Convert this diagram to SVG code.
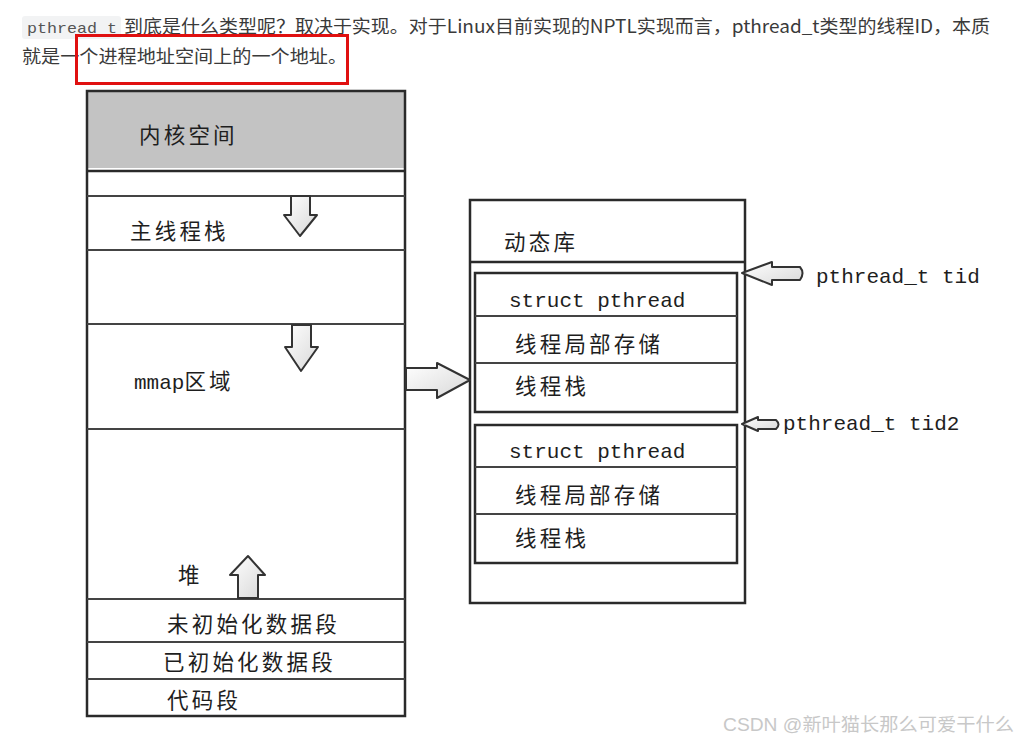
<svg xmlns="http://www.w3.org/2000/svg" width="1019" height="743" viewBox="0 0 1019 743">
<defs>
<style>
.para{font-family:"Noto Sans CJK SC","Noto Sans",sans-serif;font-size:18px;fill:#3a3a3a}
.code{font-family:"Liberation Mono","DejaVu Sans Mono",monospace;font-size:15px;fill:#555}
.cjk{font-family:"Noto Sans CJK SC",sans-serif;font-size:21.5px;fill:#1e1e1e;letter-spacing:3.2px}
.mono{font-family:"Liberation Mono","Noto Sans CJK SC",monospace;font-size:21px;fill:#1e1e1e}
.ln{stroke:#2a2a2a;stroke-width:2.5;fill:none}
.ln2{stroke:#444;stroke-width:2.2;fill:none}
.arr{fill:url(#ag);stroke:#333;stroke-width:2;stroke-linejoin:round}
.wm{font-family:"Liberation Sans","Noto Sans CJK SC",sans-serif;font-size:18px;fill:#c8c8c8}
</style>
<linearGradient id="ag" x1="0" y1="0" x2="1" y2="1">
<stop offset="0" stop-color="#ffffff"/>
<stop offset="1" stop-color="#d8d8d8"/>
</linearGradient>
</defs>
<rect width="1019" height="743" fill="#ffffff"/>

<g id="paragraph">
<rect x="22" y="16" width="99" height="23" rx="3" fill="#f2f3f4"/>
<text class="code" x="27" y="33" textLength="90" lengthAdjust="spacingAndGlyphs">pthread_t</text>
<text class="para" x="124" y="33" textLength="866" lengthAdjust="spacingAndGlyphs">到底是什么类型呢？取决于实现。对于Linux目前实现的NPTL实现而言，pthread_t类型的线程ID，本质</text>
<text class="para" x="22" y="63" textLength="325" lengthAdjust="spacingAndGlyphs">就是一个进程地址空间上的一个地址。</text>
<rect x="76.5" y="35.5" width="271" height="48" fill="none" stroke="#e01010" stroke-width="3"/>
</g>

<g id="process-space">
<rect x="87" y="91" width="318" height="77" fill="#c3c3c3"/>
<rect x="87" y="91" width="318" height="625" class="ln"/>
<line x1="87" y1="171" x2="405" y2="171" class="ln"/>
<line x1="87" y1="196" x2="405" y2="196" class="ln2"/>
<line x1="87" y1="250" x2="405" y2="250" class="ln2"/>
<line x1="87" y1="324" x2="405" y2="324" class="ln2"/>
<line x1="87" y1="429" x2="405" y2="429" class="ln2"/>
<line x1="87" y1="599" x2="405" y2="599" class="ln2"/>
<line x1="87" y1="642" x2="405" y2="642" class="ln2"/>
<line x1="87" y1="679" x2="405" y2="679" class="ln2"/>
</g>
<g id="kernel"><text class="cjk" x="139" y="143">内核空间</text></g>
<g id="main-stack"><text class="cjk" x="130" y="239">主线程栈</text></g>
<g id="mmap"><text class="mono" x="134" y="389">mmap<tspan class="cjk">区域</tspan></text></g>
<g id="heap"><text class="cjk" x="178" y="583">堆</text></g>
<g id="bss"><text class="cjk" x="167" y="632">未初始化数据段</text></g>
<g id="data"><text class="cjk" x="163" y="670">已初始化数据段</text></g>
<g id="text-seg"><text class="cjk" x="167" y="708">代码段</text></g>

<g id="dynlib">
<rect x="470" y="200" width="275" height="403" class="ln"/>
<line x1="470" y1="262" x2="745" y2="262" class="ln"/>
<text class="cjk" x="504" y="250">动态库</text>
</g>
<g id="pthread1">
<rect x="475" y="273" width="262" height="139" class="ln"/>
<line x1="475" y1="316" x2="737" y2="316" class="ln2"/>
<line x1="475" y1="363" x2="737" y2="363" class="ln2"/>
<text class="mono" x="509" y="307">struct pthread</text>
<text class="cjk" x="515" y="352">线程局部存储</text>
<text class="cjk" x="515" y="394">线程栈</text>
</g>
<g id="pthread2">
<rect x="475" y="425" width="262" height="138" class="ln"/>
<line x1="475" y1="467" x2="737" y2="467" class="ln2"/>
<line x1="475" y1="514" x2="737" y2="514" class="ln2"/>
<text class="mono" x="509" y="458">struct pthread</text>
<text class="cjk" x="515" y="503">线程局部存储</text>
<text class="cjk" x="515" y="546">线程栈</text>
</g>
<g id="tid-labels">
<text class="mono" x="816" y="283">pthread_t tid</text>
<text class="mono" x="783" y="430">pthread_t tid2</text>
</g>

<g id="connectors">
<path class="arr" d="M291,196 H310 V215 H317 L300,236 L284,215 H291 Z"/>
<path class="arr" d="M292,325 H311 V347 H318 L301,371 L285,347 H292 Z"/>
<path class="arr" d="M238,598 V575 H230 L248,556 L265,575 H258 V598 Z"/>
<path class="arr" d="M406,368 H437 V363 L470,380 L437,398 V390 H406 Z"/>
<path class="arr" d="M742,273 L772,262 V267 H800 Q805,273 800,280 H772 V285 Z"/>
<path class="arr" d="M742,424 L758,417 V420 H776 Q781,424.5 776,429 H758 V431 Z"/>
</g>

<text class="wm" x="723" y="731" textLength="291" lengthAdjust="spacingAndGlyphs">CSDN @新叶猫长那么可爱干什么</text>
</svg>
